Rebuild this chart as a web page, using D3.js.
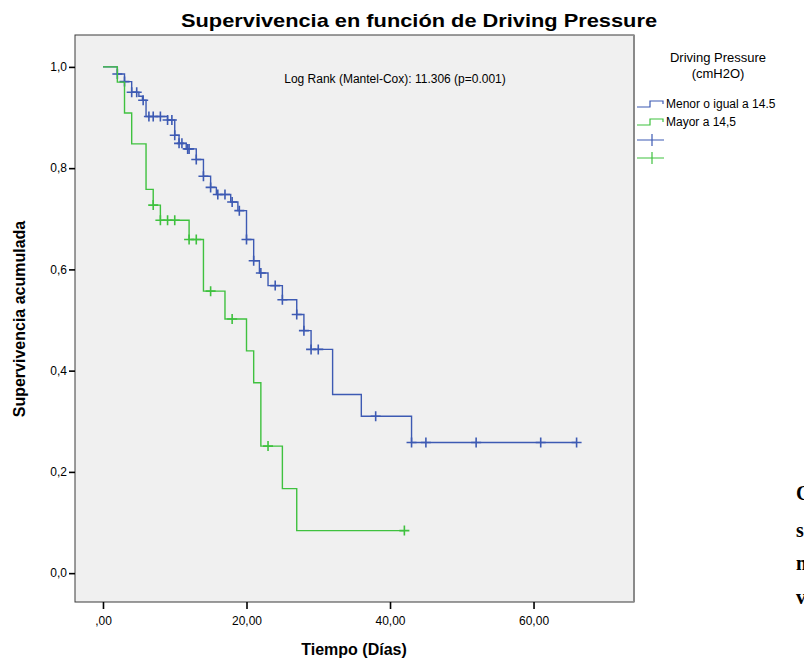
<!DOCTYPE html>
<html>
<meta charset="utf-8">
<style>
  body {
    margin: 0;
    background: #fff;
  }
  text {
    font-family: "Liberation Sans", Arial, sans-serif;
    fill: #000;
  }
  .tick text {
    font-size: 12px;
  }
  .tick line {
    stroke: #000;
    stroke-width: 1.6;
  }
  .curve {
    fill: none;
    stroke-width: 1.4;
  }
</style>
<body>
<script src="https://cdn.jsdelivr.net/npm/d3@7"></script>
<script>

// Kaplan-Meier steps: [time, survival after the drop]
var blueSteps = [
  [2, 0.986], [3, 0.971], [4, 0.950], [5, 0.942], [5.5, 0.934], [6, 0.902],
  [9, 0.895], [10, 0.865], [10.6, 0.849], [11.6, 0.838], [13, 0.817],
  [14, 0.784], [15, 0.762], [15.8, 0.748], [17.8, 0.733], [18.8, 0.716],
  [20, 0.659], [21, 0.617], [21.8, 0.593], [23, 0.568], [25, 0.540],
  [27, 0.511], [28, 0.479], [29, 0.442], [32, 0.353], [36, 0.310], [43, 0.258]
];
var blueEnd = 66;
var blueCensored = [
  2, 3, 4, 4.7, 5.6, 6.4, 7, 8, 9, 9.6, 10, 10.6, 11, 11.8, 12, 13, 14, 15,
  16, 17, 18, 19, 20, 21, 22, 24, 25, 27, 28, 29, 30, 38, 43, 45, 52, 61, 66
];

var greenSteps = [
  [2, 0.970], [3, 0.909], [4, 0.848], [6, 0.758], [7, 0.727], [8, 0.697],
  [12, 0.659], [14, 0.557], [17, 0.502], [20, 0.439], [21, 0.376],
  [22, 0.251], [25, 0.167], [27, 0.084]
];
var greenEnd = 42;
var greenCensored = [7, 8, 9, 10, 12, 13, 15, 18, 23, 42];

var groupNames = ['Menor o igual a 14.5', 'Mayor a 14,5'];
var groupColors = ['#3d5ab3', '#3fc13f'];

var yTicks = [0, 0.2, 0.4, 0.6, 0.8, 1.0];
var xTicks = [0, 20, 40, 60];

var width = 804, height = 664;
var plot = { left: 75, right: 634, top: 35, bottom: 602 };

var svg = d3.select('body').append('svg')
  .attr('width', width)
  .attr('height', height);

var x = d3.scaleLinear().domain([-3.9, 74]).range([plot.left, plot.right]);
var y = d3.scaleLinear().domain([-0.057, 1.063]).range([plot.bottom, plot.top]);

// plot background
svg.append('rect')
  .attr('x', plot.left)
  .attr('y', plot.top)
  .attr('width', plot.right - plot.left)
  .attr('height', plot.bottom - plot.top)
  .style('fill', '#f0f0f0')
  .style('stroke', '#3a3a3a')
  .style('stroke-width', 1);
svg.append('line')
  .attr('x1', plot.right).attr('x2', plot.right)
  .attr('y1', plot.top).attr('y2', plot.bottom)
  .style('stroke', '#8a8a8a').style('stroke-width', 2);

// axes
var yAxis = svg.append('g')
  .attr('transform', 'translate(' + plot.left + ',0)')
  .call(d3.axisLeft(y).tickValues(yTicks).tickSize(6).tickPadding(2)
    .tickFormat(function(d) { return d3.format('.1f')(d).replace('.', ','); }));
yAxis.select('.domain').remove();

var xAxis = svg.append('g')
  .attr('transform', 'translate(0,' + plot.bottom + ')')
  .call(d3.axisBottom(x).tickValues(xTicks).tickSize(7).tickPadding(7)
    .tickFormat(function(d) { return d === 0 ? ',00' : d3.format('.2f')(d).replace('.', ','); }));
xAxis.select('.domain').remove();

// step curves
function stepPath(steps, end) {
  var p = 'M' + x(0) + ',' + y(1);
  steps.forEach(function(s) {
    p += 'H' + x(s[0]) + 'V' + y(s[1]);
  });
  return p + 'H' + x(end);
}

function survivalAt(steps, t) {
  var s = 1;
  steps.forEach(function(d) { if (d[0] <= t) s = d[1]; });
  return s;
}

function drawGroup(steps, end, censored, color) {
  svg.append('path')
    .attr('class', 'curve')
    .attr('d', stepPath(steps, end))
    .style('stroke', color);
  var marks = svg.append('g').selectAll('g')
    .data(censored)
    .enter()
    .append('g')
    .attr('transform', function(t) {
      return 'translate(' + x(t) + ',' + y(survivalAt(steps, t)) + ')';
    });
  marks.append('path')
    .attr('d', 'M-5,0H5M0,-5V5')
    .style('stroke', color)
    .style('stroke-width', 1.6)
    .style('fill', 'none');
}

drawGroup(blueSteps, blueEnd, blueCensored, groupColors[0]);
drawGroup(greenSteps, greenEnd, greenCensored, groupColors[1]);

// texts
svg.append('text')
  .attr('x', 419).attr('y', 27)
  .attr('text-anchor', 'middle')
  .attr('textLength', 476)
  .attr('lengthAdjust', 'spacingAndGlyphs')
  .style('font-size', '19px').style('font-weight', 'bold')
  .text('Supervivencia en función de Driving Pressure');

svg.append('text')
  .attr('x', 395).attr('y', 83)
  .attr('text-anchor', 'middle')
  .style('font-size', '12px')
  .text('Log Rank (Mantel-Cox): 11.306 (p=0.001)');

svg.append('text')
  .attr('transform', 'translate(25,' + 319 + ') rotate(-90)')
  .attr('text-anchor', 'middle')
  .style('font-size', '16px').style('font-weight', 'bold')
  .text('Supervivencia acumulada');

svg.append('text')
  .attr('x', 354).attr('y', 655)
  .attr('text-anchor', 'middle')
  .style('font-size', '16px').style('font-weight', 'bold')
  .text('Tiempo (Días)');

// legend
svg.append('text')
  .attr('x', 718).attr('y', 62)
  .attr('text-anchor', 'middle')
  .style('font-size', '13px')
  .text('Driving Pressure');
svg.append('text')
  .attr('x', 718).attr('y', 78)
  .attr('text-anchor', 'middle')
  .style('font-size', '13px')
  .text('(cmH2O)');

var legendRows = [104, 122];
groupNames.forEach(function(name, i) {
  var ly = legendRows[i];
  svg.append('path')
    .attr('d', 'M637,' + (ly + 3) + 'H650V' + (ly - 3) + 'H663V' + ly)
    .style('fill', 'none')
    .style('stroke', groupColors[i])
    .style('stroke-width', 1.2);
  svg.append('text')
    .attr('x', 666).attr('y', ly + 4)
    .style('font-size', '12px')
    .text(name);
  var cy = 140 + i * 18;
  svg.append('path')
    .attr('d', 'M637,' + cy + 'H664M652,' + (cy - 6) + 'V' + (cy + 6))
    .style('fill', 'none')
    .style('stroke', groupColors[i])
    .style('stroke-width', 1.2);
});

// cut-off text from the page next to the figure
var sideLetters = ['C', 's', 'n', 'v'];
var sideRows = [500, 537, 570, 604];
sideLetters.forEach(function(l, i) {
  svg.append('text')
    .attr('x', 796).attr('y', sideRows[i])
    .style('font-family', '"Liberation Serif", "DejaVu Serif", serif')
    .style('font-size', '20px').style('font-weight', 'bold')
    .text(l);
});

</script>
</body>
</html>
